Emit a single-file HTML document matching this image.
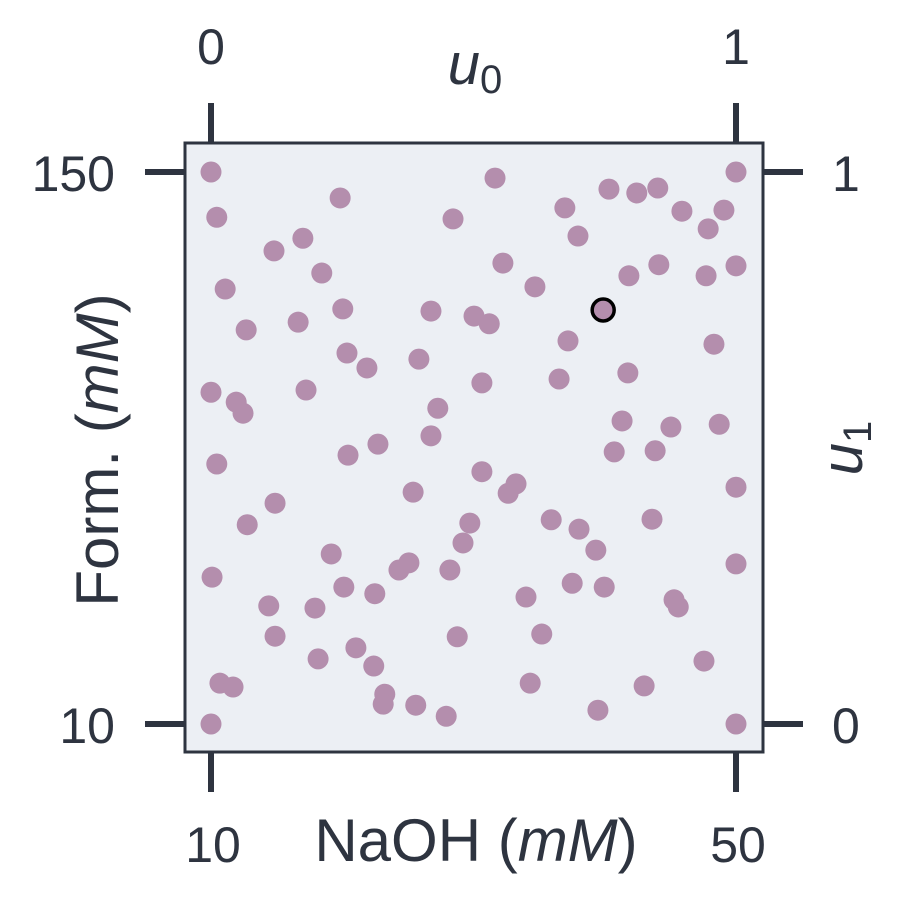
<!DOCTYPE html>
<html><head><meta charset="utf-8">
<style>
html,body{margin:0;padding:0;background:#fff;}
svg{display:block;font-family:"Liberation Sans",sans-serif;}
</style></head>
<body>
<svg id="chart" width="900" height="900" viewBox="0 0 900 900" xmlns="http://www.w3.org/2000/svg">
  <rect x="185" y="143" width="578" height="609" fill="#eceff4" stroke="#2e3440" stroke-width="3"/>
  <g id="marks"></g>
  <g id="axes"></g>
</svg>
<script>
const u0Values = [0,.011,.027,.067,0,.048,.061,.011,.069,.002,.017,.042,0,.12,.175,.211,.246,.251,.166,.259,.297,.181,.261,.318,.122,.229,.253,.110,.122,.198,.204,.276,.310,.312,.331,.328,.358,.377,.385,.390,.396,.419,.432,.419,.461,.501,.530,.541,.556,.516,.516,.493,.480,.455,.469,.448,.566,.581,.600,.617,.630,.608,.648,.663,.674,.680,.699,.701,.688,.733,.749,.737,.758,.796,.811,.851,.794,.768,.783,.846,.876,.840,.853,.897,.947,.977,1,.943,1,.958,.968,1,1,.882,.890,.939,.825,1];
const u1Values = [1,.918,.788,.714,.601,.583,.563,.471,.361,.266,.074,.067,0,.857,.880,.817,.953,.752,.728,.672,.645,.605,.487,.507,.400,.308,.248,.214,.159,.210,.118,.138,.105,.236,.054,.036,.279,.292,.420,.034,.661,.748,.572,.522,.915,.739,.725,.989,.835,.618,.457,.364,.328,.279,.158,.014,.418,.435,.230,.792,.163,.074,.370,.625,.935,.694,.884,.353,.255,.315,.248,.025,.969,.812,.962,.971,.636,.493,.549,.495,.538,.371,.832,.929,.897,.931,1,.812,.830,.688,.543,.429,.290,.225,.212,.114,.069,0];
const highlightU0 = [0.747];
const highlightU1 = [0.750];
const bottomTicks = ["10","50"];
const topTicks = ["0","1"];
const leftTicks = ["10","150"];
const rightTicks = ["0","1"];

const NS="http://www.w3.org/2000/svg";
const X0=211,X1=736,Y0=724,Y1=172;
function xs(u){return X0+u*(X1-X0);}
function ys(u){return Y0-u*(Y0-Y1);}
function mk(tag,attrs,parent){const e=document.createElementNS(NS,tag);for(const k in attrs)e.setAttribute(k,attrs[k]);parent.appendChild(e);return e;}
const marks=document.getElementById('marks');
for(let i=0;i<u0Values.length;i++){
  const c=mk('circle',{cx:xs(u0Values[i]),cy:ys(u1Values[i]),r:10.5,fill:'#b48ead'},marks);
  
  
}
for(let i=0;i<highlightU0.length;i++){
  const c=mk('circle',{cx:xs(highlightU0[i]),cy:ys(highlightU1[i]),r:11,fill:'#b48ead',stroke:'#000','stroke-width':3.5},marks);
  
  
}
const axes=document.getElementById('axes');
const col='#2e3440';
[0,1].forEach(i=>{
  const x=xs(i), y=ys(i);
  let t;
  t=mk('line',{x1:x,y1:752,x2:x,y2:792,stroke:col,'stroke-width':6},axes);
  
  t=mk('line',{x1:x,y1:103,x2:x,y2:143,stroke:col,'stroke-width':6},axes);
  
  t=mk('line',{x1:145,y1:y,x2:185,y2:y,stroke:col,'stroke-width':6},axes);
  
  t=mk('line',{x1:763,y1:y,x2:803,y2:y,stroke:col,'stroke-width':6},axes);
  
  t=mk('text',{x:x+2,y:862,'text-anchor':'middle','font-size':50,fill:col},axes);t.textContent=bottomTicks[i];
  
  t=mk('text',{x:x,y:64,'text-anchor':'middle','font-size':50,fill:col},axes);t.textContent=topTicks[i];
  
  t=mk('text',{x:115,y:y+19,'text-anchor':'end','font-size':50,fill:col},axes);t.textContent=leftTicks[i];
  
  t=mk('text',{x:832,y:y+19,'text-anchor':'start','font-size':50,fill:col},axes);t.textContent=rightTicks[i];
  
});
</script>
<svg style="position:absolute;left:0;top:0" width="900" height="900">
  <text x="476" y="861" text-anchor="middle" font-size="60" fill="#2e3440" font-family="Liberation Sans, sans-serif">NaOH (<tspan font-style="italic">mM</tspan>)</text>
  <text x="475" y="84" text-anchor="middle" font-size="58" fill="#2e3440" font-family="Liberation Sans, sans-serif"><tspan font-style="italic">u</tspan><tspan font-size="40" dy="9">0</tspan></text>
  <text transform="translate(118,450) rotate(-90)" text-anchor="middle" font-size="60" fill="#2e3440" font-family="Liberation Sans, sans-serif">Form. (<tspan font-style="italic">mM</tspan>)</text>
  <text transform="translate(862,448) rotate(-90)" text-anchor="middle" font-size="58" fill="#2e3440" font-family="Liberation Sans, sans-serif"><tspan font-style="italic">u</tspan><tspan font-size="40" dy="9">1</tspan></text>
</svg>
</body></html>
